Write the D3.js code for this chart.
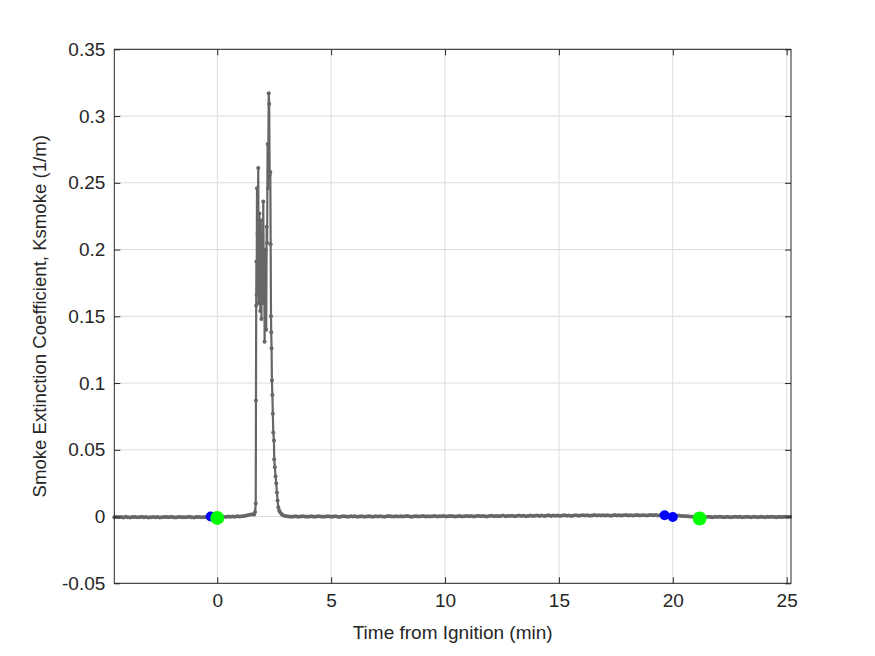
<!DOCTYPE html>
<html>
  <head>
    <meta charset="UTF-8" />
    <script src="https://d3js.org/d3.v7.min.js"></script>
    <style>
      body { margin: 0; background: #fff; }
      text { font-family: "Liberation Sans", Arial, Helvetica, sans-serif; fill: #262626; }
    </style>
  </head>
  <body>
    <div id="my_dataviz"></div>

    <script>
      // x limits of the axes (min)
      const xMin = -4.52, xMax = 25.19;
      const xTicks = [0, 5, 10, 15, 20, 25];
      const yTicks = [-0.05, 0, 0.05, 0.1, 0.15, 0.2, 0.25, 0.3, 0.35];

      // baseline before the peak: start time, sample step, values in 1e-4 (1/m)
      const preStart = -4.52, preStep = 0.1;
      const preVals = [
        -5, -3, -6, -4, -7, -2, -5, -8, -4, -3,
        -6, -5, -2, -6, -4, -7, -5, -3, -6, -4,
        -8, -5, -3, -4, -6, -2, -5, -7, -4, -3,
        -5, -6, -4, -2, -5, -7, -3, -4, -6, -5,
        -3, -4, -2, -6, -5, -3, -1, -4, -2, -3,
        0, -2, 1, -1, 2, 0, 3, 5, 8, 12,
        15, 18
      ];

      // the smoke peak, sampled times (min) and Ksmoke (1/m)
      const peakTime = [
        1.62, 1.66, 1.69, 1.70, 1.71, 1.72, 1.73, 1.745, 1.77, 1.80,
        1.82, 1.85, 1.87, 1.89, 1.91, 1.94, 1.96, 1.98, 2.00, 2.02,
        2.04, 2.06, 2.08, 2.10, 2.13, 2.15, 2.17, 2.19, 2.21, 2.23,
        2.26, 2.28, 2.30, 2.33, 2.345, 2.36, 2.37, 2.385, 2.40, 2.42,
        2.44, 2.46, 2.49, 2.50, 2.53, 2.56, 2.59, 2.62, 2.65, 2.68,
        2.72, 2.75, 2.82, 2.88
      ];
      const peakVals = [
        0.0015, 0.0034, 0.0097, 0.087, 0.158, 0.191, 0.166, 0.246, 0.212, 0.261,
        0.160, 0.227, 0.175, 0.154, 0.222, 0.148, 0.195, 0.210, 0.160, 0.236,
        0.182, 0.200, 0.131, 0.175, 0.199, 0.140, 0.217, 0.205, 0.279, 0.246,
        0.317, 0.309, 0.256, 0.258, 0.204, 0.150, 0.138, 0.126, 0.102, 0.091,
        0.077, 0.063, 0.057, 0.043, 0.037, 0.030, 0.025, 0.018, 0.012, 0.007,
        0.0045, 0.0034, 0.002, 0.001
      ];

      // baseline after the peak, values in 1e-4 (1/m)
      const postStart = 2.95, postStep = 0.1;
      const postVals = [
        6, 3, 1, -2, 0, 2, -1, 1, 3, 0,
        -2, 1, 2, -1, 0, 3, 1, -2, 0, 2,
        1, -1, 2, 0, -3, 1, 2, 0, -1, 3,
        0, 2, -2, 1, 3, -1, 0, 2, 1, -2,
        2, 0, 3, 1, -1, 2, 4, 0, 1, 3,
        1, 3, 0, 2, 4, 1, -1, 2, 3, 0,
        2, 4, 1, 3, 0, 2, 5, 1, 3, 2,
        4, 1, 3, 5, 2, 0, 3, 4, 1, 3,
        5, 2, 4, 1, 3, 6, 2, 4, 3, 1,
        4, 6, 3, 5, 2, 4, 7, 3, 5, 4,
        6, 3, 5, 8, 4, 6, 3, 5, 7, 4,
        6, 8, 5, 7, 4, 6, 9, 5, 7, 6,
        8, 5, 7, 10, 6, 8, 5, 7, 9, 6,
        8, 10, 7, 9, 6, 8, 11, 7, 9, 8,
        10, 7, 9, 6, 8, 11, 8, 10, 7, 9,
        11, 8, 10, 7, 9, 12, 8, 10, 9, 7,
        10, 12, 9, 11, 8, 10, 13, 9, 11, 10,
        8, 10, 6, 7, 4, 5, 2, 3, 1, -1,
        0, -2, -1, -3, -2, -4, -1, -3, -5, -2,
        -4, -1, -3, -5, -2, -4, -6, -3, -1, -4,
        -2, -5, -3, -1, -4, -6, -2, -3, -5, -1,
        -3, -5, -2, -4, -1, -3, -6, -2, -4, -3,
        -1, -4, -2
      ];

      // event markers
      const blueTime = [-0.29, 19.64, 20.0];
      const blueVals = [0.0, 0.001, -0.0003];
      const greenTime = [0.0, 21.18];
      const greenVals = [-0.001, -0.0015];

      var width = 875, height = 656;
      var margin = { top: 49.3, right: 84, bottom: 72.7, left: 114.3 };

      var data = [];
      preVals.forEach((v, i) => data.push({ t: preStart + i * preStep, v: v / 10000 }));
      peakTime.forEach((t, i) => data.push({ t: t, v: peakVals[i] }));
      postVals.forEach((v, i) => data.push({ t: postStart + i * postStep, v: v / 10000 }));

      var svg = d3
        .select("#my_dataviz")
        .append("svg")
        .attr("width", width)
        .attr("height", height);

      svg.append("rect").attr("width", width).attr("height", height).attr("fill", "#fff");

      var xScale = d3.scaleLinear().domain([xMin, xMax]).range([margin.left, width - margin.right]);
      var yScale = d3.scaleLinear().domain([-0.05, 0.35]).range([height - margin.bottom, margin.top]);

      var x0 = margin.left, x1 = width - margin.right;
      var y0 = height - margin.bottom, y1 = margin.top;

      // grid
      var grid = svg.append("g").attr("stroke", "#dcdcdc").attr("stroke-width", 1);
      xTicks.forEach((t) => {
        grid.append("line")
          .attr("x1", xScale(t)).attr("x2", xScale(t))
          .attr("y1", y1).attr("y2", y0);
      });
      yTicks.forEach((t) => {
        grid.append("line")
          .attr("x1", x0).attr("x2", x1)
          .attr("y1", yScale(t)).attr("y2", yScale(t));
      });

      // data line with point markers
      var line = d3.line().x((d) => xScale(d.t)).y((d) => yScale(d.v));
      svg.append("path")
        .datum(data)
        .attr("fill", "none")
        .attr("stroke", "#666666")
        .attr("stroke-width", 2.2)
        .attr("stroke-linejoin", "round")
        .attr("d", line);

      svg.append("g")
        .selectAll("circle")
        .data(data)
        .join("circle")
        .attr("cx", (d) => xScale(d.t))
        .attr("cy", (d) => yScale(d.v))
        .attr("r", 2)
        .attr("fill", "#666666");

      svg.append("g")
        .selectAll("circle")
        .data(blueTime)
        .join("circle")
        .attr("cx", (d) => xScale(d))
        .attr("cy", (d, i) => yScale(blueVals[i]))
        .attr("r", 5)
        .attr("fill", "#0000ff");

      svg.append("g")
        .selectAll("circle")
        .data(greenTime)
        .join("circle")
        .attr("cx", (d) => xScale(d))
        .attr("cy", (d, i) => yScale(greenVals[i]))
        .attr("r", 7)
        .attr("fill", "#00ff00");

      // axes (box style with inward ticks)
      var fmt = (d) => String(+d.toFixed(4));
      var tickLen = 6;

      var xAxis = d3.axisBottom(xScale).tickValues(xTicks).tickSize(-tickLen).tickPadding(10).tickFormat(fmt);
      var xAxisTop = d3.axisTop(xScale).tickValues(xTicks).tickSize(-tickLen).tickFormat("");
      var yAxis = d3.axisLeft(yScale).tickValues(yTicks).tickSize(-tickLen).tickPadding(9).tickFormat(fmt);
      var yAxisRight = d3.axisRight(yScale).tickValues(yTicks).tickSize(-tickLen).tickFormat("");

      [
        svg.append("g").attr("transform", "translate(0," + y0 + ")").call(xAxis),
        svg.append("g").attr("transform", "translate(0," + y1 + ")").call(xAxisTop),
        svg.append("g").attr("transform", "translate(" + x0 + ",0)").call(yAxis),
        svg.append("g").attr("transform", "translate(" + x1 + ",0)").call(yAxisRight),
      ].forEach((g) => {
        g.select(".domain").remove();
        g.selectAll(".tick line").attr("stroke", "#262626");
        g.selectAll(".tick text")
          .attr("fill", "#262626")
          .style("font-size", "19px")
          .style("font-family", "'Liberation Sans', Arial, sans-serif");
      });

      svg.append("rect")
        .attr("x", x0).attr("y", y1)
        .attr("width", x1 - x0).attr("height", y0 - y1)
        .attr("fill", "none")
        .attr("stroke", "#262626")
        .attr("stroke-width", 1);

      // axis labels
      svg.append("text")
        .attr("x", (x0 + x1) / 2)
        .attr("y", 639)
        .attr("text-anchor", "middle")
        .style("font-size", "19px")
        .text("Time from Ignition (min)");

      svg.append("text")
        .attr("transform", "translate(46," + (y0 + y1) / 2 + ") rotate(-90)")
        .attr("text-anchor", "middle")
        .style("font-size", "18.6px")
        .text("Smoke Extinction Coefficient, Ksmoke (1/m)");
    </script>
  </body>
</html>
